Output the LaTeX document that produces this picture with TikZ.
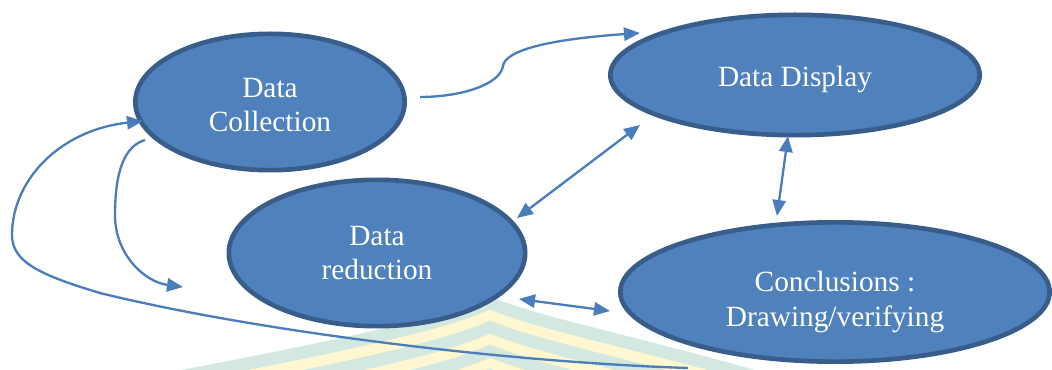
\documentclass[tikz,border=0pt]{standalone}
\usepackage{fontspec}
\setmainfont{Liberation Serif}
\usetikzlibrary{shapes.geometric,arrows.meta,calc}
\definecolor{stagefill}{HTML}{4F81BD}
\definecolor{stageedge}{HTML}{385D8A}
\definecolor{flowblue}{HTML}{4A7EBB}
\definecolor{bandteal}{HTML}{D2E8E1}
\definecolor{bandyellow}{HTML}{FFF7CF}
\tikzset{
  stage/.style={ellipse,fill=stagefill,draw=stageedge,line width=3.5pt,inner sep=0pt},
  caption/.style={text=white,align=center,inner sep=0pt,font=\fontsize{22}{26}\selectfont},
  flow/.style={draw=flowblue,line width=1.75pt,->},
  twoway/.style={draw=flowblue,line width=1.75pt,<->},
}

\begin{document}
\begin{tikzpicture}[x=0.75pt,y=-0.75pt,>={Triangle[length=12pt,width=10pt]}]
\useasboundingbox (0,0) rectangle (1052,370);

% pale banded backdrop
\begin{scope}
\clip (0,0) rectangle (1052,370);
\foreach \d in {0,24,...,120} {
  \draw[bandteal,line width=9.75pt] (140,378+6.5+\d) .. controls (330,342+6.5+\d) and (445,318+6.5+\d)
    .. (490,297+6.5+\d) .. controls (545,320+6.5+\d) and (680,345+6.5+\d) .. (820,390+6.5+\d);
  \draw[bandyellow,line width=8.25pt] (140,378+18.5+\d) .. controls (330,342+18.5+\d) and (445,318+18.5+\d)
    .. (490,297+18.5+\d) .. controls (545,320+18.5+\d) and (680,345+18.5+\d) .. (820,390+18.5+\d);
}
\end{scope}

% the four stages
\node[stage,minimum width=202pt,minimum height=102.25pt] (coll) at (270,102) {};
\node[stage,minimum width=222.25pt,minimum height=109.75pt] (red) at (377,253) {};
\node[stage,minimum width=277pt,minimum height=90.25pt] (disp) at (795,75) {};
\node[stage,minimum width=322pt,minimum height=104.5pt] (concl) at (835,292) {};

\node[caption] (coll-t) at ([yshift=-2.25pt]coll) {Data\\Collection};
\node[caption] (red-t) at (red) {Data\\reduction};
\node[caption] (disp-t) at ([yshift=-3pt]disp) {Data Display};
\node[caption] (concl-t) at ([yshift=-7.5pt]concl) {Conclusions :\\Drawing/verifying};

\coordinate (gap) at (183,287);
\coordinate (tail) at (688,368);

% links
\draw[flow] ($(coll)+(150,-5)$) .. controls +(40,0) and +(-3,19) .. (503,66)
  .. controls +(2,-14) and +(-100,7) .. ($(disp)+(-155,-42)$);
\draw[twoway] ($(red)+(140,-35)$) -- ($(disp)+(-155,50)$);
\draw[twoway] ($(disp)+(-7,61)$) -- ($(concl)+(-58,-76)$);
\draw[twoway] ($(red)+(142,46)$) -- ($(concl)+(-225,19)$);
\draw[flow] ($(coll)+(-125,38)$) .. controls +(-20,6) and +(0,-45) .. (115,215)
  .. controls +(0,40) and +(-38,-5) .. (gap);
\draw[flow] (tail) .. controls (500,362) and (250,330) .. (100,293)
  .. controls (40,275) and (12,262) .. (12,235)
  .. controls (12,180) and (60,130) .. ($(coll)+(-127,19)$);
\end{tikzpicture}
\end{document}
